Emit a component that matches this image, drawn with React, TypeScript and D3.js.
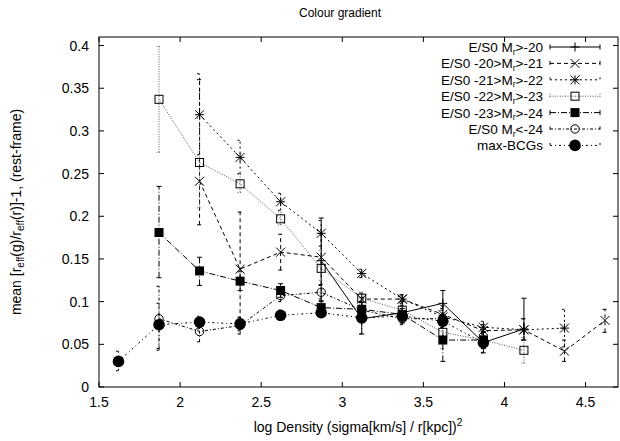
import React from "react";
import * as d3 from "d3";

const W = 620, H = 441;
const M = { left: 99, right: 618, top: 37, bottom: 387 };

const xTicks = [1.5, 2, 2.5, 3, 3.5, 4, 4.5];
const yTicks = [0, 0.05, 0.1, 0.15, 0.2, 0.25, 0.3, 0.35, 0.4];

// E/S0 Mr>-20
const s1x = [2.87, 3.12, 3.37, 3.62, 3.87, 4.12];
const s1y = [0.148, 0.080, 0.087, 0.098, 0.052, 0.068];
const s1lo = [0.10, 0.062, 0.075, 0.083, 0.040, 0.055];
const s1hi = [0.198, 0.105, 0.100, 0.113, 0.064, 0.104];
// E/S0 -20>Mr>-21
const s2x = [2.12, 2.37, 2.62, 2.87, 3.12, 3.37, 3.62, 3.87, 4.12, 4.37, 4.62];
const s2y = [0.241, 0.138, 0.158, 0.152, 0.103, 0.103, 0.085, 0.066, 0.067, 0.042, 0.078];
const s2lo = [0.19, 0.07, 0.137, 0.12, 0.095, 0.095, 0.075, 0.058, 0.055, 0.030, 0.064];
const s2hi = [0.36, 0.205, 0.179, 0.18, 0.11, 0.108, 0.095, 0.073, 0.08, 0.055, 0.091];
// E/S0 -21>Mr>-22
const s3x = [2.12, 2.37, 2.62, 2.87, 3.12, 3.37, 3.62, 3.87, 4.12, 4.37];
const s3y = [0.319, 0.269, 0.217, 0.180, 0.133, 0.103, 0.082, 0.070, 0.067, 0.069];
const s3lo = [0.272, 0.25, 0.207, 0.165, 0.128, 0.098, 0.072, 0.063, 0.055, 0.047];
const s3hi = [0.367, 0.289, 0.227, 0.195, 0.138, 0.108, 0.092, 0.077, 0.08, 0.091];
// E/S0 -22>Mr>-23
const s4x = [1.87, 2.12, 2.37, 2.62, 2.87, 3.12, 3.37, 3.62, 3.87, 4.12];
const s4y = [0.337, 0.263, 0.238, 0.197, 0.139, 0.104, 0.090, 0.064, 0.055, 0.043];
const s4lo = [0.275, 0.21, 0.228, 0.19, 0.125, 0.097, 0.083, 0.045, 0.045, 0.028];
const s4hi = [0.399, 0.315, 0.249, 0.205, 0.16, 0.111, 0.097, 0.08, 0.065, 0.058];
// E/S0 -23>Mr>-24
const s5x = [1.87, 2.12, 2.37, 2.62, 2.87, 3.12, 3.37, 3.62, 3.87];
const s5y = [0.181, 0.136, 0.124, 0.113, 0.093, 0.091, 0.085, 0.055, 0.055];
const s5lo = [0.128, 0.119, 0.113, 0.105, 0.085, 0.083, 0.078, 0.03, 0.045];
const s5hi = [0.235, 0.152, 0.135, 0.121, 0.101, 0.099, 0.092, 0.08, 0.065];
// E/S0 Mr<-24
const s6x = [1.87, 2.12, 2.37, 2.62, 2.87, 3.12, 3.37, 3.62];
const s6y = [0.080, 0.065, 0.072, 0.107, 0.111, 0.090, 0.080, 0.080];
const s6lo = [0.045, 0.053, 0.062, 0.1, 0.103, 0.08, 0.073, 0.07];
const s6hi = [0.118, 0.078, 0.082, 0.115, 0.119, 0.1, 0.087, 0.09];
// max-BCGs
const s7x = [1.62, 1.87, 2.12, 2.37, 2.62, 2.87, 3.12, 3.37, 3.62, 3.87];
const s7y = [0.030, 0.073, 0.076, 0.074, 0.084, 0.087, 0.081, 0.083, 0.077, 0.052];
const s7lo = [0.019, 0.043, 0.068, 0.066, 0.078, 0.082, 0.062, 0.076, 0.07, 0.04];
const s7hi = [0.042, 0.098, 0.083, 0.081, 0.09, 0.093, 0.1, 0.09, 0.085, 0.062];

type Label = { pre: string; sub?: string; post?: string };
const labels: Label[] = [
  { pre: "E/S0 M", sub: "r", post: ">-20" },
  { pre: "E/S0 -20>M", sub: "r", post: ">-21" },
  { pre: "E/S0 -21>M", sub: "r", post: ">-22" },
  { pre: "E/S0 -22>M", sub: "r", post: ">-23" },
  { pre: "E/S0 -23>M", sub: "r", post: ">-24" },
  { pre: "E/S0 M", sub: "r", post: "<-24" },
  { pre: "max-BCGs" },
];
const dashes = ["", "4,3", "2,3", "1,1.5", "6,2,1,2", "3,2,1,2", "2,3,1,3"];
const markers = ["plus", "cross", "star", "square", "fsquare", "circle", "fcircle"];
const strokes = ["#000", "#000", "#000", "#555", "#000", "#000", "#000"];

const series = [
  [s1x, s1y, s1lo, s1hi],
  [s2x, s2y, s2lo, s2hi],
  [s3x, s3y, s3lo, s3hi],
  [s4x, s4y, s4lo, s4hi],
  [s5x, s5y, s5lo, s5hi],
  [s6x, s6y, s6lo, s6hi],
  [s7x, s7y, s7lo, s7hi],
];

const FONT = "Liberation Sans, Arial, Helvetica, sans-serif";

function Marker({ type, cx, cy }: { type: string; cx: number; cy: number }) {
  const r = 4.5;
  switch (type) {
    case "plus":
      return <path d={`M${cx - r},${cy}H${cx + r}M${cx},${cy - r}V${cy + r}`} stroke="#000" strokeWidth={1} />;
    case "cross":
      return <path d={`M${cx - r},${cy - r}L${cx + r},${cy + r}M${cx - r},${cy + r}L${cx + r},${cy - r}`} stroke="#000" strokeWidth={1} />;
    case "star":
      return <path d={`M${cx - r},${cy}H${cx + r}M${cx},${cy - r}V${cy + r}M${cx - r},${cy - r}L${cx + r},${cy + r}M${cx - r},${cy + r}L${cx + r},${cy - r}`} stroke="#000" strokeWidth={1} />;
    case "square":
      return <rect x={cx - 4} y={cy - 4} width={8} height={8} fill="none" stroke="#000" strokeWidth={1} />;
    case "fsquare":
      return <rect x={cx - 4.5} y={cy - 4.5} width={9} height={9} fill="#000" />;
    case "circle":
      return <circle cx={cx} cy={cy} r={4.2} fill="none" stroke="#000" strokeWidth={1} />;
    case "fcircle":
      return <circle cx={cx} cy={cy} r={5.8} fill="#000" />;
  }
  return null;
}

export default function App() {
  const x = d3.scaleLinear().domain([1.5, 4.7]).range([M.left, M.right]);
  const y = d3.scaleLinear().domain([0, 0.41]).range([M.bottom, M.top]);
  const line = d3.line<[number, number]>().x((d) => x(d[0])).y((d) => y(d[1]));
  const tk = 5;
  const cap = 2.5;

  return (
    <svg width={W} height={H} style={{ position: "absolute", left: 0, top: 0, background: "#fff" }} fontFamily={FONT}>
      <rect x={0} y={0} width={W} height={H} fill="#fff" />
      <text x={340} y={17} fontSize={12} textAnchor="middle">Colour gradient</text>

      {series.map(([xs, ys, lo, hi], i) => (
        <g key={i}>
          <path d={line(xs.map((v, j) => [v, ys[j]] as [number, number])) || ""} fill="none" stroke={strokes[i]} strokeWidth={1} strokeDasharray={dashes[i]} />
          {xs.map((v, j) => (
            <path key={j}
              d={`M${x(v)},${y(lo[j])}V${y(hi[j])}M${x(v) - cap},${y(lo[j])}H${x(v) + cap}M${x(v) - cap},${y(hi[j])}H${x(v) + cap}`}
              fill="none" stroke={strokes[i]} strokeWidth={1} strokeDasharray={dashes[i]} />
          ))}
          {xs.map((v, j) => (
            <Marker key={"m" + j} type={markers[i]} cx={x(v)} cy={y(ys[j])} />
          ))}
        </g>
      ))}

      <rect x={M.left} y={M.top} width={M.right - M.left} height={M.bottom - M.top} fill="none" stroke="#000" strokeWidth={1} />
      {xTicks.map((t) => (
        <g key={"x" + t}>
          <line x1={x(t)} x2={x(t)} y1={M.bottom} y2={M.bottom - tk} stroke="#000" />
          <line x1={x(t)} x2={x(t)} y1={M.top} y2={M.top + tk} stroke="#000" />
          <text x={x(t)} y={407} fontSize={14} textAnchor="middle">{t}</text>
        </g>
      ))}
      {yTicks.map((t) => (
        <g key={"y" + t}>
          <line x1={M.left} x2={M.left + tk} y1={y(t)} y2={y(t)} stroke="#000" />
          <line x1={M.right} x2={M.right - tk} y1={y(t)} y2={y(t)} stroke="#000" />
          <text x={89} y={y(t) + 5} fontSize={14} textAnchor="end">{t}</text>
        </g>
      ))}

      <text x={358} y={432} fontSize={14} textAnchor="middle">
        log Density (sigma[km/s] / r[kpc])<tspan dy={-6} fontSize={10}>2</tspan>
      </text>
      <text transform={`translate(21,${(M.top + M.bottom) / 2}) rotate(-90)`} fontSize={14} textAnchor="middle">
        mean [r<tspan dy={3} fontSize={10}>eff</tspan><tspan dy={-3}>(g)/r</tspan><tspan dy={3} fontSize={10}>eff</tspan><tspan dy={-3}>(r)]-1, (rest-frame)</tspan>
      </text>

      {labels.map((l, i) => {
        const ly = 47 + i * 16.4;
        return (
          <g key={"l" + i}>
            <text x={543} y={ly + 5} fontSize={13.5} textAnchor="end">
              {l.pre}
              {l.sub ? <tspan dy={2.5} fontSize={8.5}>{l.sub}</tspan> : null}
              {l.post ? <tspan dy={-2.5}>{l.post}</tspan> : null}
            </text>
            <path d={`M550,${ly}H600M550,${ly - 2.5}V${ly + 2.5}M600,${ly - 2.5}V${ly + 2.5}`} stroke={strokes[i]} fill="none" strokeWidth={1} strokeDasharray={dashes[i]} />
            <Marker type={markers[i]} cx={575} cy={ly} />
          </g>
        );
      })}
    </svg>
  );
}
